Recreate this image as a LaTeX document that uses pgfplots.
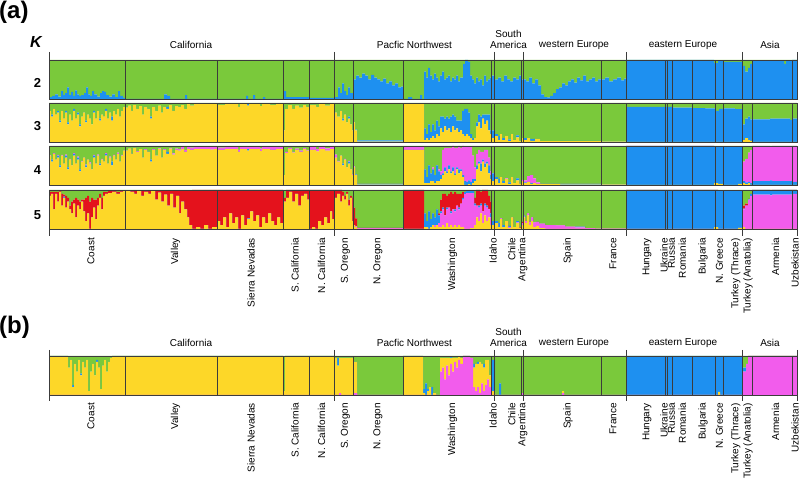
\documentclass[border=0pt]{standalone}
\usepackage{fontspec}
\setmainfont{Liberation Sans}
\usepackage{pgfplots}
\usepackage{pgfplotstable}
\pgfplotsset{compat=1.18}
\definecolor{cG}{RGB}{122,201,59}
\definecolor{cB}{RGB}{30,144,240}
\definecolor{cY}{RGB}{253,215,40}
\definecolor{cM}{RGB}{242,92,236}
\definecolor{cR}{RGB}{228,18,28}
\definecolor{cL}{RGB}{60,60,60}

% K=2 : x, blue (green = remainder)
\pgfplotstableread[row sep=\\]{
x B\\ 49 .05\\ 52 .08\\ 55 .12\\ 58 .06\\ 61 .2\\ 63 .1\\ 65 .15\\ 67 .3\\ 69 .1\\ 71 .18\\ 73 .08\\ 75 .22\\ 77 .12\\ 79 .08\\ 81 .1\\ 84 .15\\ 86 .3\\ 88 .12\\ 90 .08\\ 92 .2\\ 94 .12\\ 97 .06\\ 100 .15\\ 102 .2\\ 104 .18\\ 106 .1\\ 109 .06\\ 112 .12\\ 115 .05\\ 118 .2\\ 120 .08\\ 123 .03\\ 125 0\\ 164 .12\\ 167 .08\\ 170 0\\ 185 .1\\ 187 0\\ 246 .08\\ 248 0\\ 253 .1\\ 255 0\\ 263 .05\\ 265 0\\ 283 .2\\ 286 .05\\ 309 .03\\ 334 .05\\ 338 .3\\ 340 .15\\ 342 .4\\ 344 .2\\ 346 .1\\ 348 .3\\ 350 .15\\ 353 .5\\ 356 .6\\ 359 .55\\ 362 .65\\ 365 .6\\ 368 .5\\ 371 .62\\ 374 .55\\ 377 .5\\ 380 .45\\ 383 .52\\ 386 .4\\ 389 .45\\ 392 .35\\ 395 .4\\ 398 .3\\ 401 .32\\ 403 0\\ 408 .05\\ 412 0\\ 420 .1\\ 422 0\\ 424 .7\\ 426 .55\\ 428 .8\\ 430 .6\\ 432 .5\\ 434 .65\\ 436 .55\\ 438 .45\\ 440 .6\\ 442 .7\\ 444 .5\\ 446 .55\\ 448 .6\\ 450 .45\\ 452 .55\\ 454 .5\\ 456 .6\\ 458 .45\\ 460 .55\\ 463 .9\\ 465 1\\ 468 .95\\ 470 .6\\ 472 .5\\ 474 .4\\ 476 .55\\ 478 .45\\ 480 .5\\ 482 .35\\ 484 .6\\ 486 .45\\ 488 .5\\ 490 .55\\ 491 .6\\ 495 .5\\ 498 .55\\ 501 .45\\ 504 .6\\ 507 .5\\ 510 .45\\ 513 .55\\ 516 .5\\ 519 .6\\ 521 .5\\ 523 .5\\ 526 .45\\ 529 .55\\ 532 .4\\ 535 .5\\ 538 .35\\ 541 .12\\ 544 .05\\ 547 .04\\ 550 .08\\ 553 .15\\ 556 .25\\ 559 .3\\ 562 .4\\ 565 .35\\ 568 .45\\ 571 .5\\ 574 .42\\ 577 .55\\ 580 .48\\ 583 .6\\ 586 .45\\ 589 .5\\ 592 .55\\ 595 .45\\ 598 .5\\ 601 .5\\ 605 .55\\ 609 .45\\ 613 .5\\ 617 .55\\ 621 .48\\ 624 .52\\ 626 1\\ 714 .92\\ 718 .97\\ 723 .95\\ 742.3 .85\\ 745 .7\\ 748 .8\\ 750 .9\\ 752 .97\\ 784 .9\\ 786 .97\\ 792 1\\ 797 1\\
}\tKtwo

% K=3 : x, yellow, blue (green = remainder)
\pgfplotstableread[row sep=\\]{
x Y B\\ 49 .8 0\\ 51 .65 .05\\ 53 .85 0\\ 55 .7 0\\ 57 .75 .05\\ 59 .5 .05\\ 61 .8 0\\ 63 .6 0\\ 65 .75 .05\\ 67 .45 .05\\ 69 .7 0\\ 71 .55 0\\ 73 .8 .05\\ 75 .6 0\\ 77 .7 .05\\ 79 .4 .05\\ 81 .65 0\\ 83 .75 0\\ 85 .5 .05\\ 87 .7 0\\ 89 .6 0\\ 91 .45 0\\ 93 .75 .05\\ 95 .6 0\\ 97 .8 0\\ 99 .55 .05\\ 101 .7 0\\ 103 .65 0\\ 105 .8 .05\\ 107 .6 0\\ 109 .75 0\\ 111 .55 .1\\ 113 .8 0\\ 115 .7 0\\ 117 .85 0\\ 119 .65 0\\ 121 .8 0\\ 123 .9 0\\ 125 .88 0\\ 128 .93 0\\ 131 .8 0\\ 133 .95 0\\ 136 .85 0\\ 139 .92 0\\ 142 .7 0\\ 144 .9 0\\ 147 .85 0\\ 150 .6 .05\\ 152 .9 0\\ 155 .8 0\\ 158 .93 0\\ 161 .75 0\\ 163 .9 0\\ 166 .85 .05\\ 169 .95 0\\ 172 .8 0\\ 175 .92 0\\ 178 .9 0\\ 181 .95 0\\ 184 .85 0\\ 187 .97 0\\ 190 .93 0\\ 194 .97 0\\ 200 .98 0\\ 210 .97 0\\ 214 .98 0\\ 217 .95 0\\ 225 .97 0\\ 238 .9 0\\ 240 .97 0\\ 247 .93 .04\\ 249 .97 0\\ 260 .92 0\\ 262 .97 0\\ 270 .95 0\\ 276 .97 0\\ 283 .3 0\\ 285 .85 0\\ 288 .95 0\\ 292 .85 0\\ 295 .93 0\\ 299 .88 0\\ 303 .95 0\\ 306 .9 0\\ 309 .95 0\\ 316 .9 0\\ 319 .97 0\\ 325 .93 0\\ 330 .97 0\\ 334 .75 0\\ 337 .65 0\\ 340 .8 0\\ 342 .55 .05\\ 344 .7 0\\ 346 .5 0\\ 348 .6 .05\\ 350 .45 0\\ 352 .3 0\\ 353 .5 0\\ 355 .3 .02\\ 357 .01 .03\\ 403 .97 0\\ 424 .05 .3\\ 426 .1 .1\\ 428 .05 .4\\ 430 .1 .15\\ 432 .15 .3\\ 434 .1 .2\\ 436 .2 .35\\ 438 .15 .25\\ 440 .35 .3\\ 442 .25 .4\\ 444 .4 .2\\ 446 .3 .35\\ 448 .35 .25\\ 450 .25 .4\\ 452 .4 .3\\ 454 .3 .35\\ 456 .35 .2\\ 458 .25 .3\\ 460 .3 .25\\ 462 .2 .6\\ 464 .15 .7\\ 466 .2 .65\\ 468 .15 .6\\ 470 .1 .1\\ 472 .05 .05\\ 474 .1 0\\ 476 .4 .1\\ 478 .5 .2\\ 480 .35 .3\\ 482 .6 .1\\ 484 .45 .25\\ 486 .55 .15\\ 488 .3 .4\\ 490 .2 .1\\ 491 .1 .2\\ 495 .15 .05\\ 498 .05 .1\\ 500 .2 0\\ 502 .05 .05\\ 505 .15 0\\ 508 .02 .05\\ 511 .2 0\\ 513 .05 0\\ 516 .12 .05\\ 519 .03 0\\ 521 .1 0\\ 523 .05 .05\\ 527 .1 0\\ 530 .03 .05\\ 535 .08 0\\ 540 .02 0\\ 560 .02 .01\\ 601 .01 0\\ 626 0 .9\\ 665 0 .9\\ 673 0 .88\\ 692 0 .87\\ 705 0 .86\\ 715 0 .8\\ 719 0 .85\\ 723 0 .86\\ 735 0 .84\\ 742.3 .05 .4\\ 745 .1 .5\\ 748 .05 .6\\ 750 .03 .55\\ 752 0 .58\\ 770 0 .6\\ 790 0 .57\\ 792 0 .6\\ 797 0 .6\\
}\tKthree

% K=4 : x, yellow, blue, magenta (green = remainder)
\pgfplotstableread[row sep=\\]{
x Y B M\\ 49 .75 0 .02\\ 51 .6 .05 0\\ 53 .8 0 .02\\ 55 .65 0 0\\ 57 .7 .05 .02\\ 59 .45 .05 0\\ 61 .75 0 .02\\ 63 .55 0 0\\ 65 .7 .05 .03\\ 67 .4 .05 0\\ 69 .65 0 .02\\ 71 .5 0 0\\ 73 .75 .05 .02\\ 75 .55 0 0\\ 77 .65 .05 .03\\ 79 .35 .05 0\\ 81 .6 0 .02\\ 83 .7 0 0\\ 85 .45 .05 .02\\ 87 .65 0 0\\ 89 .55 0 .03\\ 91 .4 0 0\\ 93 .7 .05 .02\\ 95 .55 0 0\\ 97 .75 0 .03\\ 99 .5 .05 0\\ 101 .65 0 .02\\ 103 .6 0 0\\ 105 .75 .05 .02\\ 107 .55 0 0\\ 109 .7 0 .03\\ 111 .5 .1 0\\ 113 .75 0 .02\\ 115 .65 0 0\\ 117 .8 0 .03\\ 119 .6 0 0\\ 121 .75 0 .02\\ 123 .88 0 0\\ 125 .88 0 0\\ 128 .93 0 0\\ 131 .8 0 0\\ 133 .95 0 0\\ 136 .85 0 .02\\ 139 .92 0 0\\ 142 .7 0 0\\ 144 .9 0 .02\\ 147 .85 0 0\\ 150 .6 .05 0\\ 152 .9 0 .02\\ 155 .75 0 0\\ 158 .92 0 .02\\ 161 .7 0 0\\ 163 .9 0 .02\\ 166 .8 .05 0\\ 169 .93 0 .02\\ 172 .78 0 .03\\ 175 .9 0 .03\\ 178 .88 0 .04\\ 181 .92 0 .05\\ 184 .85 0 .05\\ 187 .92 0 .06\\ 190 .9 0 .06\\ 194 .92 0 .07\\ 200 .92 0 .06\\ 210 .91 0 .07\\ 214 .92 0 .06\\ 217 .9 0 .06\\ 225 .92 0 .06\\ 238 .85 0 .05\\ 240 .92 0 .06\\ 247 .88 .04 .05\\ 249 .92 0 .07\\ 260 .87 0 .06\\ 262 .92 0 .06\\ 270 .9 0 .07\\ 276 .92 0 .06\\ 283 .25 0 0\\ 285 .82 0 .03\\ 288 .92 0 .03\\ 292 .83 0 .02\\ 295 .9 0 .03\\ 299 .85 0 .03\\ 303 .92 0 .03\\ 306 .88 0 .02\\ 309 .9 0 .07\\ 316 .86 0 .06\\ 319 .92 0 .07\\ 325 .88 0 .06\\ 330 .92 0 .07\\ 334 .7 0 .08\\ 337 .6 0 .02\\ 340 .75 0 0\\ 342 .5 .05 0\\ 344 .65 0 .02\\ 346 .45 0 0\\ 348 .55 .05 .02\\ 350 .4 0 0\\ 352 .25 0 .03\\ 353 .45 0 .03\\ 355 .25 .02 0\\ 357 .01 .02 0\\ 403 .9 0 .08\\ 424 .05 .35 0\\ 426 .05 .15 0\\ 428 .05 .45 0\\ 430 .1 .2 0\\ 432 .1 .3 .05\\ 434 .05 .2 0\\ 436 .1 .4 0\\ 438 .1 .25 .05\\ 440 .15 .1 .1\\ 442 .25 .05 .6\\ 444 .35 .1 .5\\ 446 .3 .05 .6\\ 448 .4 .1 .45\\ 450 .3 .05 .6\\ 452 .35 .1 .55\\ 454 .25 .05 .65\\ 456 .4 .05 .5\\ 458 .3 .1 .6\\ 460 .35 .05 .55\\ 462 .2 .05 .75\\ 464 0 .1 .88\\ 466 0 .08 .9\\ 468 .02 .1 .85\\ 470 0 .08 .9\\ 472 .05 .1 .6\\ 474 .1 .05 .3\\ 476 .4 .1 .3\\ 478 .55 .05 .3\\ 480 .35 .2 .3\\ 482 .6 .05 .2\\ 484 .45 .1 .35\\ 486 .55 .05 .3\\ 488 .3 .2 .2\\ 490 .15 .1 .1\\ 491 .1 .2 0\\ 495 .15 .05 0\\ 498 .05 .1 0\\ 500 .2 0 0\\ 502 .05 .05 0\\ 505 .15 0 .02\\ 508 .02 .05 0\\ 511 .2 0 0\\ 513 .05 0 0\\ 516 .12 .05 0\\ 519 .03 0 0\\ 521 .1 0 .03\\ 523 .05 .02 .05\\ 527 .08 0 .15\\ 530 .03 .02 .2\\ 533 .05 0 .12\\ 536 .02 0 .05\\ 540 .02 .01 0\\ 560 .01 .02 0\\ 601 .01 0 0\\ 626 0 1 0\\ 714 .05 .92 0\\ 718 .03 .94 .02\\ 723 0 .97 0\\ 738 .03 .95 0\\ 742.3 .05 .05 .5\\ 745 .02 .05 .6\\ 748 .05 .03 .75\\ 750 0 .05 .85\\ 752 0 .1 .9\\ 770 0 .12 .85\\ 772 0 .1 .9\\ 792 0 .08 .92\\ 797 0 .08 .92\\
}\tKfour

% K=5 : x, yellow, magenta, blue, red (green = remainder)
\pgfplotstableread[row sep=\\]{
x Y M B R\\ 49 .85 0 0 .1\\ 51 .9 0 0 .05\\ 53 .5 0 0 .45\\ 55 .9 0 0 .05\\ 57 .7 0 0 .25\\ 59 .95 0 0 .03\\ 61 .6 0 0 .3\\ 63 .8 0 .03 .05\\ 65 .55 0 0 .3\\ 67 .7 0 0 .1\\ 69 .5 0 0 .1\\ 71 .4 0 0 .3\\ 73 .65 0 0 .1\\ 75 .3 0 0 .5\\ 77 .6 0 0 .15\\ 79 .5 0 0 .2\\ 81 .7 0 0 .05\\ 83 .45 0 0 .3\\ 85 .2 0 0 .6\\ 87 .4 0 0 .45\\ 89 0 0 0 .7\\ 91 .3 0 0 .5\\ 93 .55 0 0 .2\\ 95 .25 0 0 .5\\ 97 .6 0 0 .2\\ 99 .8 0 0 .1\\ 101 .5 0 0 .3\\ 103 .85 0 0 .1\\ 105 .9 0 0 .05\\ 108 .92 0 0 .05\\ 112 .95 0 0 .03\\ 116 .9 0 0 .05\\ 120 .95 0 0 .03\\ 123 .97 0 0 0\\ 125 .97 0 0 .02\\ 130 .95 0 0 .03\\ 134 .9 0 0 .08\\ 137 .97 0 0 .02\\ 141 .85 0 0 .13\\ 144 .95 0 0 .03\\ 148 .9 0 0 .08\\ 151 .97 0 0 .02\\ 155 .75 0 0 .23\\ 158 .93 0 0 .05\\ 161 .7 0 0 .28\\ 164 .88 0 0 .1\\ 167 .6 0 0 .38\\ 170 .9 0 0 .08\\ 173 .55 0 0 .43\\ 176 .85 0 0 .13\\ 179 .4 0 0 .58\\ 181 .7 0 0 .28\\ 184 .5 0 0 .48\\ 187 .3 0 0 .68\\ 189 .1 0 0 .88\\ 192 0 0 0 1\\ 196 .05 0 0 .95\\ 200 0 0 0 1\\ 204 .1 0 0 .9\\ 208 0 0 0 1\\ 212 .05 0 0 .95\\ 217 .2 0 0 .8\\ 220 .1 0 0 .9\\ 223 .3 0 0 .7\\ 226 .05 0 0 .95\\ 229 .4 0 0 .6\\ 232 .15 0 0 .85\\ 235 .3 0 0 .7\\ 238 0 0 0 1\\ 241 .35 0 0 .65\\ 244 .1 0 0 .9\\ 247 .25 0 .02 .73\\ 250 .45 0 0 .55\\ 253 .2 0 0 .8\\ 256 .35 0 0 .65\\ 259 .05 0 0 .95\\ 262 .3 0 0 .7\\ 265 .15 0 0 .85\\ 268 .4 0 0 .6\\ 271 .2 0 0 .8\\ 274 .1 0 0 .9\\ 277 .3 0 0 .7\\ 280 .15 0 0 .85\\ 283 .7 0 0 .1\\ 286 .8 0 0 .2\\ 289 .95 0 0 .05\\ 292 .7 0 0 .3\\ 295 .9 0 0 .1\\ 298 .6 0 0 .4\\ 301 .85 0 0 .15\\ 304 .9 0 0 .1\\ 307 .75 0 0 .25\\ 309 0 0 0 1\\ 312 .05 0 0 .95\\ 315 0 0 0 1\\ 318 .2 0 0 .8\\ 321 .1 0 0 .9\\ 324 .3 0 0 .7\\ 327 .15 0 0 .85\\ 330 .45 0 0 .55\\ 332 .25 0 0 .75\\ 334 .8 0 0 .2\\ 337 .9 0 0 .1\\ 340 .7 0 0 .3\\ 342 .85 0 0 .1\\ 344 .75 0 0 .1\\ 346 .9 0 0 .05\\ 348 .6 0 0 .15\\ 350 .8 0 0 .05\\ 352 .2 0 0 .6\\ 353 .1 0 0 .45\\ 355 .05 .02 0 .2\\ 357 0 .02 .01 0\\ 403 0 0 0 1\\ 424 .05 0 .35 0\\ 426 .05 0 .15 0\\ 428 0 0 .45 0\\ 430 .05 0 .2 0\\ 432 .1 0 .3 0\\ 434 .05 .05 .2 0\\ 436 .1 0 .4 0\\ 438 .05 .1 .2 .05\\ 440 .05 .35 .05 .3\\ 442 .1 .4 .05 .35\\ 444 .05 .3 0 .55\\ 446 .15 .35 .05 .3\\ 448 .05 .5 0 .35\\ 450 .1 .3 .05 .5\\ 452 .05 .45 0 .4\\ 454 .1 .35 .05 .45\\ 456 .05 .55 0 .3\\ 458 .1 .4 .05 .35\\ 460 .05 .6 0 .25\\ 462 .05 .7 .05 .15\\ 464 0 .9 .05 0\\ 466 0 .92 .05 0\\ 470 .02 .9 .05 0\\ 474 .1 .5 .05 .15\\ 476 .3 .3 0 .4\\ 478 .2 .35 .05 .4\\ 480 .4 .2 .05 .3\\ 482 .15 .3 0 .55\\ 484 .35 .25 .05 .35\\ 486 .2 .35 .05 .4\\ 488 .3 .2 0 .35\\ 490 .1 .2 .1 .3\\ 491 .1 0 .1 0\\ 495 .15 0 .05 0\\ 498 .05 0 .1 0\\ 500 .25 .02 0 0\\ 502 .05 0 .05 0\\ 505 .2 0 0 0\\ 508 .02 .03 .03 0\\ 511 .3 0 0 0\\ 513 .05 0 0 0\\ 516 .15 .02 .03 0\\ 519 .03 0 0 .02\\ 521 .1 .05 0 .03\\ 523 .3 .02 .02 0\\ 525 .15 .05 0 0\\ 527 .35 .05 0 0\\ 529 .1 .08 0 0\\ 531 .2 .1 0 0\\ 533 .05 .12 0 0\\ 536 .08 .1 0 0\\ 539 .02 .12 0 0\\ 545 0 .1 0 0\\ 555 0 .09 0 0\\ 565 0 .06 0 0\\ 575 0 .04 .02 0\\ 585 0 .02 0 0\\ 595 0 .01 0 0\\ 601 0 .01 0 0\\ 626 0 0 1 0\\ 714 .05 0 .95 0\\ 718 0 0 .97 0\\ 723 0 0 .98 0\\ 738 .03 0 .95 0\\ 742.3 .05 .45 .02 .08\\ 745 0 .6 0 .05\\ 748 0 .75 .02 0\\ 750 0 .85 .05 0\\ 752 0 .88 .12 0\\ 770 0 .86 .12 .02\\ 772 0 .88 .12 0\\ 792 0 .9 .1 0\\ 797 0 .9 .1 0\\
}\tKfive

% panel (b) : x, magenta, yellow, blue (green = remainder)
\pgfplotstableread[row sep=\\]{
x M Y B\\ 49 0 1 0\\ 68 0 .7 0\\ 70 0 .9 0\\ 72 0 .2 .05\\ 74 0 .8 0\\ 76 0 .6 0\\ 78 0 .9 0\\ 80 0 .5 .05\\ 82 0 .85 0\\ 84 0 .7 0\\ 86 0 .9 0\\ 88 0 .1 0\\ 90 0 .6 0\\ 92 0 .8 0\\ 94 0 .5 0\\ 96 0 .85 .05\\ 98 0 .7 0\\ 100 0 .15 0\\ 102 0 .75 0\\ 104 0 .9 0\\ 106 0 .6 0\\ 108 0 .85 0\\ 110 0 .95 0\\ 112 0 1 0\\ 283 0 .1 0\\ 285 0 1 0\\ 334 0 .95 0\\ 337 0 .75 .2\\ 339 .05 .9 0\\ 341 0 .95 0\\ 353 .05 .8 0\\ 357 0 0 0\\ 403 0 1 0\\ 423 0 .05 .1\\ 425 0 0 .3\\ 427 0 .1 .05\\ 429 0 .2 0\\ 431 0 0 .2\\ 433 0 .05 0\\ 436 0 0 0\\ 440 .6 .35 0\\ 442 .7 .25 0\\ 444 .4 .55 0\\ 446 .75 .2 0\\ 448 .5 .45 0\\ 450 .8 .15 .03\\ 452 .6 .35 0\\ 454 .85 .1 0\\ 456 .7 .25 0\\ 458 .9 .08 0\\ 460 .8 .15 0\\ 463 1 0 0\\ 470 .95 0 0\\ 473 .2 .5 .1\\ 475 .1 .7 0\\ 477 .2 .6 .05\\ 479 .05 .8 0\\ 481 .3 .5 0\\ 483 .1 .6 .1\\ 485 .25 .65 0\\ 487 .4 .5 0\\ 489 .2 .3 0\\ 491 0 .1 .8\\ 495 0 0 0\\ 499 0 0 .3\\ 501 0 0 0\\ 521 .05 0 0\\ 523 0 0 0\\ 562 .05 .05 0\\ 564 0 0 0\\ 626 0 0 1\\ 718 0 .08 .92\\ 720 0 0 1\\ 742.3 .6 0 .1\\ 746 .8 0 0\\ 748 1 0 0\\ 797 1 0 0\\
}\tKb

\pgfplotsset{
  rowbase/.style={
    scale only axis, width=748pt, height=39pt, anchor=south west,
    xmin=49, xmax=797, ymin=0, ymax=1,
    axis on top, ytick=\empty,
    xtick={49,334,494.5,523,626,742.3,797}, xticklabels={},
    xmajorgrids,
    extra x ticks={125,217,283,309,353,403,491,521,601,665,667.3,672.7,692.3,715.3,723.3,752,792},
    extra x tick labels={},
    extra x tick style={major tick length=0pt},
    major grid style={draw=cL, line width=0.8pt},
    axis line style={draw=cL, line width=0.9pt},
    every tick/.style={draw=cL, line width=0.9pt},
    tick align=outside, major tick length=0pt,
    stack plots=y, const plot,
    every axis plot/.append style={draw=none},
  },
  toprow/.style={xtick pos=upper, major tick length=8pt},
  botrow/.style={xtick pos=lower, major tick length=7pt},
  bothrow/.style={xtick pos=both, major tick length=6pt},
}

\begin{document}
\begin{tikzpicture}[x=1pt,y=1pt]
\useasboundingbox (0,0) rectangle (800,481);

% ---------- panel (a) ----------
\begin{axis}[rowbase, toprow, at={(49pt,382pt)}]
\addplot[fill=cB] table[x=x,y=B]{\tKtwo} \closedcycle;
\addplot[fill=cG] table[x=x,y expr=1-\thisrow{B}]{\tKtwo} \closedcycle;
\end{axis}

\begin{axis}[rowbase, at={(49pt,339pt)}]
\addplot[fill=cY] table[x=x,y=Y]{\tKthree} \closedcycle;
\addplot[fill=cB] table[x=x,y=B]{\tKthree} \closedcycle;
\addplot[fill=cG] table[x=x,y expr=1-\thisrow{Y}-\thisrow{B}]{\tKthree} \closedcycle;
\end{axis}

\begin{axis}[rowbase, at={(49pt,296pt)}]
\addplot[fill=cY] table[x=x,y=Y]{\tKfour} \closedcycle;
\addplot[fill=cB] table[x=x,y=B]{\tKfour} \closedcycle;
\addplot[fill=cM] table[x=x,y=M]{\tKfour} \closedcycle;
\addplot[fill=cG] table[x=x,y expr=1-\thisrow{Y}-\thisrow{B}-\thisrow{M}]{\tKfour} \closedcycle;
\end{axis}

\begin{axis}[rowbase, botrow, at={(49pt,252pt)}]
\addplot[fill=cY] table[x=x,y=Y]{\tKfive} \closedcycle;
\addplot[fill=cM] table[x=x,y=M]{\tKfive} \closedcycle;
\addplot[fill=cB] table[x=x,y=B]{\tKfive} \closedcycle;
\addplot[fill=cR] table[x=x,y=R]{\tKfive} \closedcycle;
\addplot[fill=cG] table[x=x,y expr=1-\thisrow{Y}-\thisrow{M}-\thisrow{B}-\thisrow{R}]{\tKfive} \closedcycle;
\end{axis}

% ---------- panel (b) ----------
\begin{axis}[rowbase, bothrow, at={(49pt,86pt)}]
\addplot[fill=cM] table[x=x,y=M]{\tKb} \closedcycle;
\addplot[fill=cY] table[x=x,y=Y]{\tKb} \closedcycle;
\addplot[fill=cB] table[x=x,y=B]{\tKb} \closedcycle;
\addplot[fill=cG] table[x=x,y expr=1-\thisrow{M}-\thisrow{Y}-\thisrow{B}]{\tKb} \closedcycle;
\end{axis}

% ---------- texts ----------
\node[font=\fontsize{24}{26}\selectfont\bfseries, anchor=west, inner sep=0] at (-1,469) {(a)};
\node[font=\fontsize{24}{26}\selectfont\bfseries, anchor=west, inner sep=0] at (-1,154) {(b)};
\node[font=\fontsize{16}{18}\selectfont\bfseries\itshape] at (36,439) {K};
\foreach \n/\yy in {2/398,3/355,4/311,5/266}
  \node[font=\fontsize{13}{15}\selectfont\bfseries] at (37.5,\yy) {\n};

\foreach \yo in {0,-298}{
  \begin{scope}[yshift=\yo, font=\fontsize{10}{11}\selectfont]
  \node at (191,436) {California};
  \node at (414.5,436) {Pacfic Northwest};
  \node at (508.5,447.5) {South};
  \node at (508.5,436) {America};
  \node at (574,436) {western Europe};
  \node at (683,436) {eastern Europe};
  \node at (770,436) {Asia};
  \end{scope}
}

\foreach \yy in {243,78}{
  \begin{scope}[every node/.style={rotate=90, anchor=east, inner sep=0, font=\fontsize{10}{11}\selectfont}]
  \node at (91,\yy) {Coast};
  \node at (175.5,\yy) {Valley};
  \node at (251,\yy) {Sierra Nevadas};
  \node at (295,\yy) {S. California};
  \node at (321.5,\yy) {N. California};
  \node at (345.5,\yy) {S. Oregon};
  \node at (378,\yy) {N. Oregon};
  \node at (452.5,\yy) {Washington};
  \node at (493,\yy) {Idaho};
  \node at (511.7,\yy) {Chile};
  \node at (522.7,\yy) {Argentina};
  \node at (568,\yy) {Spain};
  \node at (613,\yy) {France};
  \node at (647,\yy) {Hungary};
  \node at (664,\yy) {Ukraine};
  \node at (671.2,\yy) {Russia};
  \node at (682.2,\yy) {Romania};
  \node at (703,\yy) {Bulgaria};
  \node at (719.5,\yy) {N. Greece};
  \node at (735.8,\yy) {Turkey (Thrace)};
  \node at (748,\yy) {Turkey (Anatolia)};
  \node at (775.5,\yy) {Armenia};
  \node at (795,\yy) {Uzbekistan};
  \end{scope}
}
\end{tikzpicture}
\end{document}
